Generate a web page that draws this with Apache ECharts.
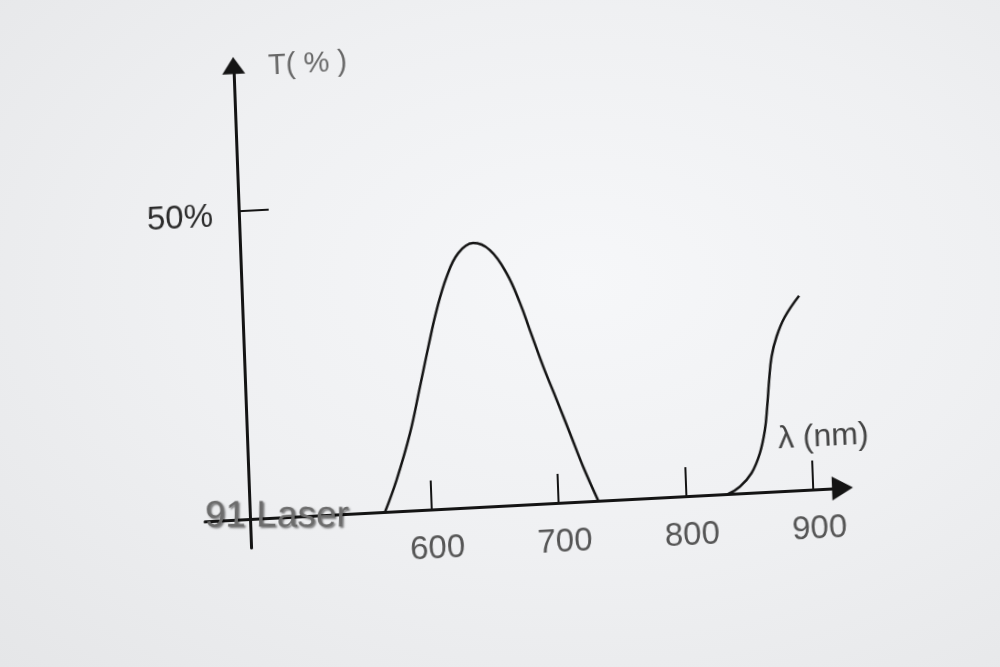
<!DOCTYPE html>
<html>
<head>
<meta charset="utf-8">
<script src="https://cdn.jsdelivr.net/npm/echarts@6/dist/echarts.min.js"></script>
<style>
  html, body { margin: 0; padding: 0; width: 1000px; height: 667px; overflow: hidden;
    background: radial-gradient(ellipse at 58% 42%, #f6f7f9 0%, #eff0f2 50%, #e5e6e8 100%); }
  #chart { position: absolute; left: 0; top: 0; width: 1000px; height: 667px;
    transform-origin: 250px 519px;
    transform: matrix(0.9986, -0.0523, 0.0366, 0.9993, 0, 0); }
</style>
</head>
<body>
<div id="chart"></div>
<script>
// wavelength ticks (nm)
const xTicks = [600, 700, 800, 900];
const yTicks = [50];
// transmission band around 640 nm
const bandNm = [563.7, 573.7, 585.5, 594.7, 602.4, 610.0, 618.8, 628.5, 640.5, 653.5, 665.9, 675.5, 682.5, 691.9, 701.5, 710.9, 720.4, 731.2];
const bandT  = [0, 5.1, 12.5, 20.0, 26.4, 32.3, 37.6, 41.3, 42.8, 41.5, 37.6, 32.7, 28.2, 22.2, 16.7, 11.2, 5.6, 0];
// rising edge in near infrared
const edgeNm = [833.3, 842.7, 852.2, 859.2, 863.8, 866.3, 868.6, 871.2, 875.7, 882.7, 894.5];
const edgeT  = [0, 1.1, 3.2, 6.3, 10.0, 13.8, 18.1, 21.9, 25.1, 28.2, 31.5];
const yName = 'T( % )';
const xName = 'λ (nm)';
const watermark = '91 Laser';

const toPairs = (xs, ys) => xs.map((x, i) => [x, ys[i]]);
const ink = '#141414';
const font = '"Liberation Sans", Arial, sans-serif';

const chart = echarts.init(document.getElementById('chart'), null, { renderer: 'canvas' });
chart.setOption({
  backgroundColor: 'transparent',
  animation: false,
  grid: { left: 205, right: 156.7, top: 65.2, bottom: 119, containLabel: false },
  xAxis: {
    type: 'value', min: 422.35, max: 923.0,
    axisLine: { show: true, onZero: true, symbol: ['none', 'triangle'], symbolSize: [24, 21],
      lineStyle: { color: ink, width: 3 } },
    axisTick: { show: true, inside: true, length: 29, customValues: xTicks,
      lineStyle: { color: ink, width: 2 } },
    axisLabel: { show: true, customValues: xTicks, fontSize: 33, color: '#555',
      fontFamily: font, margin: -6, padding: [0, 0, 0, 10] },
    splitLine: { show: false }
  },
  yAxis: {
    type: 'value', min: -4.7, max: 73.6, offset: -45,
    axisLine: { show: true, onZero: false, symbol: ['none', 'triangle'], symbolSize: [23, 17],
      lineStyle: { color: ink, width: 3 } },
    axisTick: { show: true, inside: true, length: 30, customValues: yTicks,
      lineStyle: { color: ink, width: 2 } },
    axisLabel: { show: true, customValues: yTicks, formatter: '{value}%', fontSize: 33,
      color: '#2b2b2b', fontFamily: font, margin: 26, verticalAlign: 'top', lineHeight: 10 },
    splitLine: { show: false }
  },
  graphic: [
    { type: 'text', x: 284.7, y: 67.6, z: 10,
      style: { text: yName, font: '29px ' + font, fill: '#666', textAlign: 'left', textVerticalAlign: 'middle' } },
    { type: 'text', x: 826, y: 467, z: 10,
      style: { text: xName, font: '32px ' + font, fill: '#444', textAlign: 'center', textVerticalAlign: 'middle' } },
    { type: 'text', x: 205, y: 514, z: 100, rotation: -0.052,
      style: { text: watermark, font: '37px ' + font, fill: '#6c6c6c', textAlign: 'left', textVerticalAlign: 'middle',
        textShadowColor: 'rgba(0,0,0,0.5)', textShadowBlur: 2, textShadowOffsetX: 1.5, textShadowOffsetY: 1.5 } }
  ],
  series: [
    { type: 'line', data: toPairs(bandNm, bandT), smooth: 0.4, showSymbol: false,
      lineStyle: { color: ink, width: 2.5 } },
    { type: 'line', data: toPairs(edgeNm, edgeT), smooth: 0.4, showSymbol: false,
      lineStyle: { color: ink, width: 2.5 } }
  ]
});
</script>
</body>
</html>
